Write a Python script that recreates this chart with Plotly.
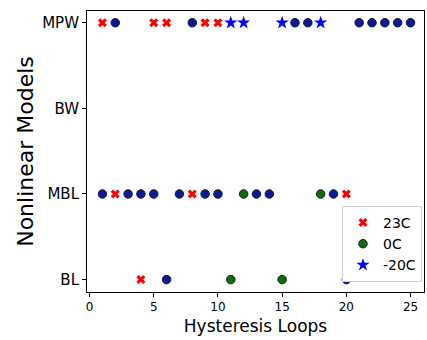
import plotly.graph_objects as go

models = ["BL", "MBL", "BW", "MPW"]
x_ticks = [0, 5, 10, 15, 20, 25]

# 23C (red x)
red_mpw = [1, 5, 6, 9, 10]
red_mbl = [2, 8, 20]
red_bl = [4]
# 0C (green circles)
green_mbl = [12, 18]
green_bl = [11, 15]
# -20C (blue stars)
star_mpw = [11, 12, 15, 18]
# dark blue circles (unlabelled)
blue_mpw = [2, 8, 16, 17, 21, 22, 23, 24, 25]
blue_mbl = [1, 3, 4, 5, 7, 9, 10, 13, 14, 19]
blue_bl = [6, 20]

FONT = "DejaVu Sans"

def pts(groups):
    xs, ys = [], []
    for name, vals in groups:
        xs += vals
        ys += [name] * len(vals)
    return xs, ys

fig = go.Figure()

bx, by = pts([("MPW", blue_mpw), ("MBL", blue_mbl), ("BL", blue_bl)])
fig.add_trace(go.Scatter(x=bx, y=by, mode="markers", showlegend=False,
                         marker=dict(symbol="circle", size=8.5, color="#0a18a0",
                                     line=dict(color="#1a1a1a", width=1))))

rx, ry = pts([("MPW", red_mpw), ("MBL", red_mbl), ("BL", red_bl)])
fig.add_trace(go.Scatter(x=rx, y=ry, mode="markers", name="23C",
                         marker=dict(symbol="x", size=8, color="#ff0000",
                                     line=dict(width=0))))

gx, gy = pts([("MBL", green_mbl), ("BL", green_bl)])
fig.add_trace(go.Scatter(x=gx, y=gy, mode="markers", name="0C",
                         marker=dict(symbol="circle", size=8.5, color="#0b6e0b",
                                     line=dict(color="#1a1a1a", width=1))))

sx, sy = pts([("MPW", star_mpw)])
fig.add_trace(go.Scatter(x=sx, y=sy, mode="markers", name="-20C",
                         marker=dict(symbol="star", size=10, color="#0000ff",
                                     line=dict(width=0))))

fig.update_layout(
    width=427, height=340,
    margin=dict(l=87, r=3, t=11, b=48),
    paper_bgcolor="white", plot_bgcolor="white",
    font=dict(family=FONT, color="black"),
    xaxis=dict(range=[-0.2, 26.05], tickvals=x_ticks, ticks="outside", ticklen=4,
               tickcolor="black", showgrid=False, zeroline=False, automargin=False,
               showline=True, linecolor="black", linewidth=1, mirror=True,
               tickfont=dict(size=12, family=FONT),
               title=dict(text="Hysteresis Loops", font=dict(size=17, family=FONT), standoff=6)),
    yaxis=dict(type="category", categoryorder="array", categoryarray=models,
               range=[-0.145, 3.137], ticks="outside", ticklen=4, automargin=False,
               tickcolor="black", showgrid=False, zeroline=False,
               showline=True, linecolor="black", linewidth=1, mirror=True,
               tickfont=dict(size=15, family=FONT),
               title=dict(text="Nonlinear Models", font=dict(size=22, family=FONT), standoff=2)),
    legend=dict(x=0.994, y=0.036, xanchor="right", yanchor="bottom",
                bgcolor="white", bordercolor="#d0d0d0", borderwidth=1,
                font=dict(size=14, family=FONT), itemwidth=30, tracegroupgap=4),
)

fig.write_html("out.html", config={"displayModeBar": False},
               post_script="document.body.style.margin='0px';document.body.style.overflow='hidden';")
